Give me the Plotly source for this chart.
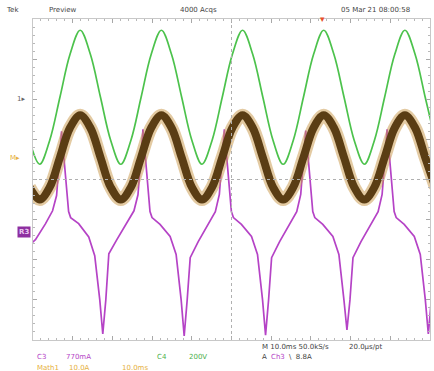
import plotly.graph_objects as go

# ---- data (time in ms, amplitude in screen divisions) ----
t_ms = [-0.89, 1.67, 4.22, 6.78, 9.33, 11.89, 14.45, 17.00, 19.56, 22.11,
        24.67, 27.23, 29.78, 32.34, 34.89, 37.45, 40.01, 42.56, 45.12, 47.67,
        50.23, 52.79, 55.34, 57.90, 60.45, 63.01, 65.57, 68.12, 70.68, 73.23,
        75.79, 78.35, 80.90, 83.46, 86.01, 88.57, 91.13, 93.68, 96.24, 98.79,
        101.35]

green_div = [0.98, 0.38, 0.98, 2.05, 3.12, 3.72, 3.12, 2.05, 0.98, 0.38,
             0.98, 2.05, 3.12, 3.72, 3.12, 2.05, 0.98, 0.38, 0.98, 2.05,
             3.12, 3.72, 3.12, 2.05, 0.98, 0.38, 0.98, 2.05, 3.12, 3.72,
             3.12, 2.05, 0.98, 0.38, 0.98, 2.05, 3.12, 3.72, 3.12, 2.05,
             0.98]

brown_div = [-0.19, -0.50, -0.19, 0.55, 1.29, 1.60, 1.29, 0.55, -0.19, -0.50,
             -0.19, 0.55, 1.29, 1.60, 1.29, 0.55, -0.19, -0.50, -0.19, 0.55,
             1.29, 1.60, 1.29, 0.55, -0.19, -0.50, -0.19, 0.55, 1.29, 1.60,
             1.29, 0.55, -0.19, -0.50, -0.19, 0.55, 1.29, 1.60, 1.29, 0.55,
             -0.19]

purple_t = [-1.4, 0.62, 3.16, 4.93, 5.94, 6.7,
            7.2, 7.96, 8.97, 9.48, 11.5, 14.04, 15.55, 16.82, 17.58, 18.34, 19.1, 21.12, 23.66, 25.43, 26.44, 27.2,
            27.7, 28.46, 29.47, 29.98, 32.0, 34.54, 36.05, 37.32, 38.08, 38.84, 39.6, 41.62, 44.16, 45.93, 46.94, 47.7,
            48.2, 48.96, 49.97, 50.48, 52.5, 55.04, 56.55, 57.82, 58.58, 59.34, 60.1, 62.12, 64.66, 66.43, 67.44, 68.2,
            68.7, 69.46, 70.47, 70.98, 73.0, 75.54, 77.05, 78.32, 79.08, 79.84, 80.6, 82.62, 85.16, 86.93, 87.94, 88.7,
            89.2, 89.96, 90.97, 91.48, 93.5, 96.04, 97.55, 98.82, 99.58, 100.34, 101.1]

purple_div = [-1.68, -1.50, -1.10, -0.78, -0.40, 0.45,
              1.20, 0.35, -0.80, -0.95, -1.10, -1.43, -1.90, -3.0, -3.85, -3.0, -1.85, -1.50, -1.08, -0.78, -0.38, 0.50,
              1.25, 0.38, -0.80, -0.95, -1.12, -1.42, -1.87, -3.0, -3.90, -3.0, -1.95, -1.55, -1.12, -0.80, -0.37, 0.50,
              1.25, 0.37, -0.80, -0.95, -1.12, -1.42, -1.87, -3.0, -3.88, -3.0, -1.95, -1.55, -1.12, -0.80, -0.37, 0.50,
              1.22, 0.37, -0.80, -0.95, -1.12, -1.42, -1.87, -3.0, -3.75, -3.0, -1.95, -1.55, -1.12, -0.80, -0.37, 0.50,
              1.25, 0.37, -0.80, -0.95, -1.12, -1.42, -1.87, -3.0, -3.85, -3.0, -1.95]

fig = go.Figure()

fig.add_trace(go.Scatter(x=purple_t, y=purple_div, mode="lines",
                         line=dict(color="#b543c6", width=1.7), hoverinfo="skip"))
fig.add_trace(go.Scatter(x=t_ms, y=brown_div, mode="lines",
                         line=dict(color="rgba(200,150,70,0.5)", width=13, shape="spline"),
                         hoverinfo="skip"))
fig.add_trace(go.Scatter(x=t_ms, y=brown_div, mode="lines",
                         line=dict(color="#5a3d14", width=8, shape="spline"),
                         hoverinfo="skip"))
fig.add_trace(go.Scatter(x=t_ms, y=green_div, mode="lines",
                         line=dict(color="#4cc24c", width=1.7, shape="spline"),
                         hoverinfo="skip"))

# center cross
fig.add_shape(type="line", x0=0, x1=100, y0=0, y1=0, xref="x", yref="y",
              line=dict(color="#b0b0b0", width=1, dash="dot"))
fig.add_shape(type="line", x0=50, x1=50, y0=-4, y1=4, xref="x", yref="y",
              line=dict(color="#b0b0b0", width=1, dash="dot"))

fig.update_xaxes(range=[0, 100], showgrid=False, zeroline=False, showticklabels=False,
                 showline=True, linecolor="#c8c8c8", linewidth=1, mirror="allticks",
                 ticks="inside", dtick=10, ticklen=4, tickcolor="#a8a8a8",
                 minor=dict(ticks="inside", dtick=2, ticklen=2, tickcolor="#b8b8b8"))
fig.update_yaxes(range=[-4, 4], showgrid=False, zeroline=False, showticklabels=False,
                 showline=True, linecolor="#c8c8c8", linewidth=1, mirror="allticks",
                 ticks="inside", dtick=1, ticklen=4, tickcolor="#a8a8a8",
                 minor=dict(ticks="inside", dtick=0.2, ticklen=2, tickcolor="#b8b8b8"))

F = "DejaVu Sans"
def txt(x, y, s, color="#444", size=7, anchor="left"):
    fig.add_annotation(x=x, y=y, xref="paper", yref="paper", text=s, showarrow=False,
                       xanchor=anchor, yanchor="middle",
                       font=dict(family=F, size=size, color=color))

# top status line
txt(-0.072, 1.028, "Tek")
txt(0.035, 1.028, "Preview")
txt(0.365, 1.028, "4000 Acqs")
txt(0.77, 1.028, "05 Mar 21 08:00:58")
txt(0.730, 1.0, "▾", color="#e8502a", size=9, anchor="center")

# left channel markers
txt(-0.03, 0.751, "1▸", color="#666", size=7, anchor="center")
txt(-0.045, 0.567, "M▸", color="#e6b040", size=7, anchor="center")
fig.add_annotation(x=-0.04, y=0.336, xref="paper", yref="paper", text="<b>R3</b>",
                   showarrow=False, bgcolor="#8e2fa0", borderpad=1,
                   font=dict(family=F, size=7, color="#e8c8f0"))

# bottom readouts
txt(0.572, -0.022, "M 10.0ms 50.0kS/s")
txt(0.79, -0.022, "20.0μs/pt")
txt(0.005, -0.053, "C3", color="#b543c6")
txt(0.078, -0.053, "770mA", color="#b543c6")
txt(0.308, -0.053, "C4", color="#4caf4c")
txt(0.388, -0.053, "200V", color="#4caf4c")
txt(0.572, -0.053, "A", color="#444")
txt(0.595, -0.053, "Ch3", color="#b543c6")
txt(0.64, -0.053, "\\  8.8A", color="#444")
txt(0.005, -0.087, "Math1", color="#e6b040")
txt(0.085, -0.087, "10.0A", color="#e6b040")
txt(0.22, -0.087, "10.0ms", color="#e6b040")

fig.update_layout(width=434, height=371, autosize=False,
                  margin=dict(l=33, r=4, t=19, b=31),
                  plot_bgcolor="white", paper_bgcolor="white", showlegend=False)

fig.write_html("out.html", config={"displayModeBar": False},
               post_script="document.body.style.margin='0';document.body.style.padding='0';"
                           "document.body.style.overflow='hidden';")
